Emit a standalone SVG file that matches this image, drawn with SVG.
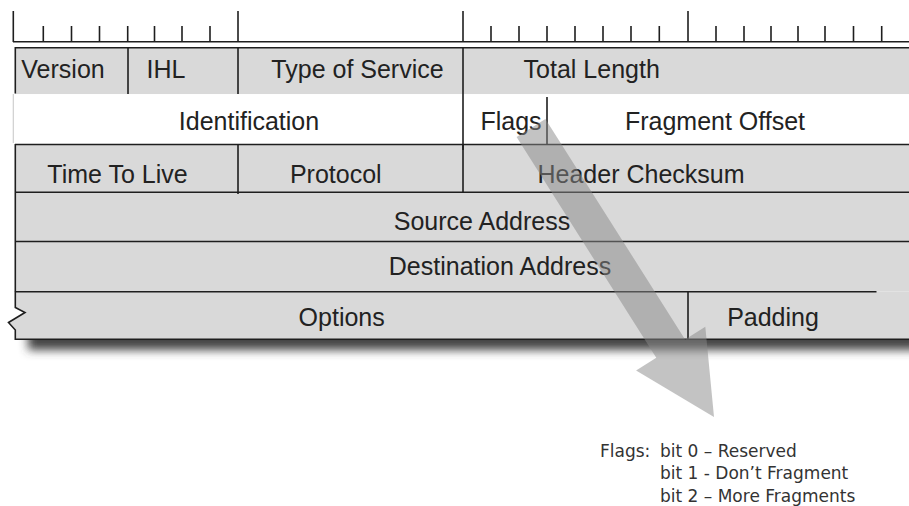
<svg xmlns="http://www.w3.org/2000/svg" width="909" height="506" viewBox="0 0 909 506">
  <style>
    .ln { stroke: #1e1e1e; stroke-width: 1.6; fill: none; }
    .tk { stroke: #1e1e1e; stroke-width: 1.6; }
    .cell { fill: #d9d9d9; }
    .lbl { font-family: "Liberation Sans", Arial, sans-serif; font-size: 25px; fill: #222; text-anchor: middle; }
    .leg { font-family: "DejaVu Sans", Verdana, sans-serif; font-size: 17px; fill: #333; }
  </style>
  <defs>
    <filter id="shadow" filterUnits="userSpaceOnUse" x="0" y="300" width="960" height="90">
      <feGaussianBlur stdDeviation="5"/>
    </filter>
  </defs>
  <rect width="909" height="506" fill="#ffffff"/>

  <!-- ruler -->
  <g id="ruler">
    <line class="tk" x1="13" y1="41.7" x2="909" y2="41.7"/>
    <line class="tk" x1="13.3" y1="11" x2="13.3" y2="42"/>
    <line class="tk" x1="238" y1="11" x2="238" y2="42"/>
    <line class="tk" x1="463" y1="11" x2="463" y2="42"/>
    <line class="tk" x1="688" y1="11" x2="688" y2="42"/>
    <path class="tk" d="M43.3,26V42 M71.5,26V42 M99.5,26V42 M127.7,26V42 M154.5,26V42 M182,26V42 M210,26V42
      M491,26V42 M519,26V42 M547,26V42 M575,26V42 M603,26V42 M631,26V42 M659.3,26V42
      M716,26V42 M744,26V42 M771,26V42 M798,26V42 M825,26V42 M853.5,26V42 M881.7,26V42"/>
  </g>

  <!-- shadow -->
  <rect x="28" y="326" width="920" height="24" fill="#444444" filter="url(#shadow)"/>

  <!-- row backgrounds -->
  <rect class="cell" x="15" y="47.7" width="900" height="46.5"/>
  <rect x="13" y="94.2" width="900" height="50.3" fill="#ffffff"/>
  <rect class="cell" x="15" y="144.5" width="900" height="147.2"/>
  <path class="cell" d="M15,291.7 H915 V339.3 H15 V330 L8.5,322.5 L25,312.5 L15,307.5 Z"/>

  <!-- row lines -->
  <g id="grid">
    <line class="ln" x1="15" y1="47.7" x2="909" y2="47.7"/>
    <line class="ln" x1="15" y1="144.5" x2="909" y2="144.5"/>
    <line class="ln" x1="15" y1="192.3" x2="909" y2="192.3"/>
    <line class="ln" x1="15" y1="241.5" x2="909" y2="241.5"/>
    <line class="ln" x1="15" y1="291.7" x2="876.5" y2="291.7"/>
    <line class="ln" x1="15" y1="339.3" x2="909" y2="339.3"/>
    <line class="ln" x1="15.3" y1="47" x2="15.3" y2="93.5"/>
    <line x1="13.3" y1="94" x2="13.3" y2="143" stroke="#cfcfcf" stroke-width="1.2"/>
    <line class="ln" x1="15.3" y1="144" x2="15.3" y2="292"/>
    <path class="ln" d="M15.3,291.7 V307.5 L25,312.5 L8.5,322.5 L15.3,330 V340"/>
  </g>

  <g id="version">
    <line class="ln" x1="128" y1="47.7" x2="128" y2="94"/>
    <text class="lbl" x="63" y="78">Version</text>
  </g>
  <g id="ihl">
    <line class="ln" x1="238" y1="47.7" x2="238" y2="94"/>
    <text class="lbl" x="166" y="78">IHL</text>
  </g>
  <g id="type-of-service">
    <line class="ln" x1="463" y1="47.7" x2="463" y2="150"/>
    <text class="lbl" x="357.5" y="78">Type of Service</text>
  </g>
  <g id="total-length">
    <text class="lbl" x="591.7" y="78">Total Length</text>
  </g>
  <g id="identification">
    <text class="lbl" x="249" y="130">Identification</text>
  </g>
  <g id="flags">
    <line class="ln" x1="547" y1="97" x2="547" y2="145"/>
    <text class="lbl" x="511" y="130">Flags</text>
  </g>
  <g id="fragment-offset">
    <text class="lbl" x="715" y="130">Fragment Offset</text>
  </g>
  <g id="time-to-live">
    <line class="ln" x1="238" y1="144.5" x2="238" y2="194"/>
    <text class="lbl" x="117.5" y="182.5">Time To Live</text>
  </g>
  <g id="protocol">
    <line class="ln" x1="463" y1="144.5" x2="463" y2="193"/>
    <text class="lbl" x="335.8" y="182.5">Protocol</text>
  </g>
  <g id="header-checksum">
    <text class="lbl" x="641" y="182.5">Header Checksum</text>
  </g>
  <g id="source-address">
    <text class="lbl" x="482" y="229.5">Source Address</text>
  </g>
  <g id="destination-address">
    <text class="lbl" x="500" y="275">Destination Address</text>
  </g>
  <g id="options">
    <text class="lbl" x="341.7" y="326">Options</text>
  </g>
  <g id="padding">
    <line class="ln" x1="688" y1="291.7" x2="688" y2="339.3"/>
    <text class="lbl" x="773" y="326">Padding</text>
  </g>

  <!-- connector: big arrow from Flags to the legend -->
  <g id="connectors">
    <polygon points="516.6,137.1 656.3,357.7 636.1,370.5 714,417 705.3,326.7 685.1,339.5 545.4,118.9" fill="#888888" fill-opacity="0.5"/>
  </g>

  <g id="legend">
    <text class="leg" x="600" y="457">Flags:</text>
    <text class="leg" x="660" y="457">bit 0 – Reserved</text>
    <text class="leg" x="660" y="479.3">bit 1 - Don’t Fragment</text>
    <text class="leg" x="660" y="501.5">bit 2 – More Fragments</text>
  </g>
</svg>
